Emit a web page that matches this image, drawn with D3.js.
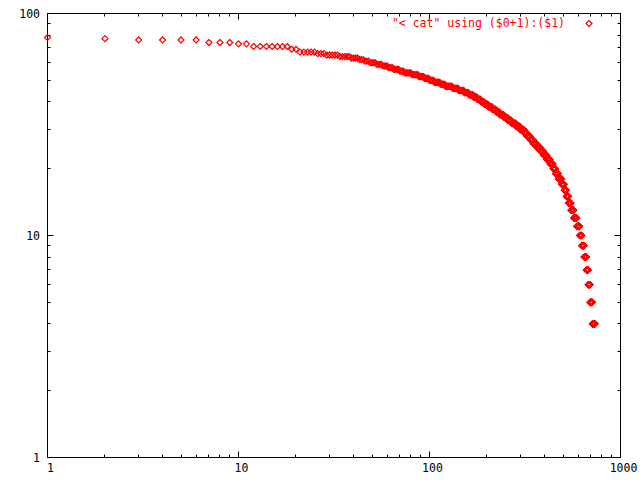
<!DOCTYPE html>
<html>
<head>
<meta charset="utf-8">
<script src="https://cdn.jsdelivr.net/npm/d3@7"></script>
<style>
  html, body { margin: 0; padding: 0; background: #fff; }
  svg { display: block; }
  text { font-family: "DejaVu Sans Mono", monospace; font-size: 11.5px; }
</style>
</head>
<body>
<svg id="chart" width="640" height="480"></svg>
<script>
// Run-length data: each value and how many consecutive ranks have it
const values = [78,77,76,74,73,71,69,67,66,65,64,63,62,61,60,59,58,57,56,55,54,53,52,51,50,49,48,47,46,45,44,43,42,41,40,39,38,37,36,35,34,33,32,31,30,29,28,27,26,25,24,23,22,21,20,19,18,17,16,15,14,13,12,11,10,9,8,7,6,5,4];
const counts = [1,1,4,3,2,7,2,5,3,5,5,4,3,3,4,4,4,4,5,4,7,7,6,6,6,8,7,11,10,10,9,9,8,8,8,9,10,10,10,12,12,12,15,14,15,11,13,12,15,16,15,16,17,16,13,16,19,16,13,14,16,19,21,20,16,18,18,15,15,20,23];
const xTickLabels = ["1", "10", "100", "1000"];
const yTickLabels = ["1", "10", "100"];
const legendLabel = '"< cat" using ($0+1):($1)';

(function () {
const points = [];
values.forEach((v, i) => {
  for (let k = 0; k < counts[i]; k++) points.push({ rank: points.length + 1, value: v });
});

const svg = d3.select("#chart");
const L = 47.5, R = 620.5, T = 13.5, B = 457.5;
const red = "#ff0000";

const x = d3.scaleLog().domain([1, 1000]).range([L, R]);
const y = d3.scaleLog().domain([1, 100]).range([B, T]);

const xMajor = xTickLabels.map(Number);
const yMajor = yTickLabels.map(Number);
const minorOf = (dom) => {
  const out = [];
  for (let d = dom[0]; d < dom[1]; d *= 10)
    for (let m = 2; m <= 9; m++) out.push(d * m);
  return out;
};
const xMinor = minorOf(x.domain());
const yMinor = minorOf(y.domain());
const tickG = svg.append("g").attr("stroke", "#000").attr("stroke-width", 1);
const majL = 6, minL = 3;
const snap = v => Math.round(v - 0.5) + 0.5;
xMajor.forEach(t => {
  const px = snap(x(t));
  tickG.append("line").attr("x1", px).attr("x2", px).attr("y1", B).attr("y2", B - majL);
  tickG.append("line").attr("x1", px).attr("x2", px).attr("y1", T).attr("y2", T + majL);
});
xMinor.forEach(t => {
  const px = snap(x(t));
  tickG.append("line").attr("x1", px).attr("x2", px).attr("y1", B).attr("y2", B - minL);
  tickG.append("line").attr("x1", px).attr("x2", px).attr("y1", T).attr("y2", T + minL);
});
yMajor.forEach(t => {
  const py = snap(y(t));
  tickG.append("line").attr("y1", py).attr("y2", py).attr("x1", L).attr("x2", L + majL);
  tickG.append("line").attr("y1", py).attr("y2", py).attr("x1", R).attr("x2", R - majL);
});
yMinor.forEach(t => {
  const py = snap(y(t));
  tickG.append("line").attr("y1", py).attr("y2", py).attr("x1", L).attr("x2", L + minL);
  tickG.append("line").attr("y1", py).attr("y2", py).attr("x1", R).attr("x2", R - minL);
});

svg.append("rect").attr("x", L).attr("y", T)
  .attr("width", R - L).attr("height", B - T)
  .attr("fill", "none").attr("stroke", "#000").attr("stroke-width", 1);

svg.append("g").selectAll("text").data(xMajor).join("text")
  .attr("x", d => x(d) + 3).attr("y", 472)
  .attr("text-anchor", "middle").attr("fill", "#000")
  .text((d, i) => xTickLabels[i]);
svg.append("g").selectAll("text").data(yMajor).join("text")
  .attr("x", 40).attr("y", d => y(d) + 4)
  .attr("text-anchor", "end").attr("fill", "#000")
  .text((d, i) => yTickLabels[i]);

const s = 3;
const diamond = `M0,${-s}L${s},0L0,${s}L${-s},0Z`;
svg.append("g").selectAll("path").data(points).join("path")
  .attr("transform", d => `translate(${x(d.rank)},${y(d.value)})`)
  .attr("d", diamond)
  .attr("fill", "none").attr("stroke", red).attr("stroke-width", 1.2);

svg.append("text").attr("x", 565).attr("y", 27)
  .attr("text-anchor", "end").attr("fill", red).text(legendLabel);
svg.append("path").attr("transform", "translate(589,23.5)")
  .attr("d", diamond).attr("fill", "none").attr("stroke", red).attr("stroke-width", 1.2);
})();
</script>
</body>
</html>
